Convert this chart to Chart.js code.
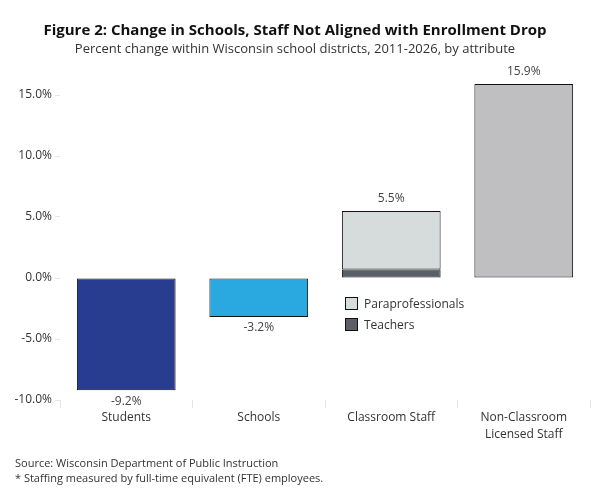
<!DOCTYPE html>
<html>
<head>
<meta charset="utf-8">
<script src="https://cdn.jsdelivr.net/npm/chart.js@4.4.1/dist/chart.umd.min.js"></script>
<style>
  body { margin: 0; background: #fff; }
  #wrap { position: relative; width: 600px; height: 500px; font-family: "Open Sans", "Noto Sans", sans-serif; color: #333; }
  .legend { position: absolute; left: 345px; font-size: 12px; line-height: 14px; }
  .legend span.box { display: inline-block; width: 11px; height: 11px; border: 1px solid #111; vertical-align: -2px; margin-right: 6px; }
  #footer { position: absolute; left: 15px; top: 455px; font-size: 11px; line-height: 15px; color: #333; }
</style>
</head>
<body>
<div id="wrap">
  <canvas id="myChart" width="600" height="500"></canvas>
  <div class="legend" style="top:297px"><span class="box" style="background:#d6dbdb"></span>Paraprofessionals</div>
  <div class="legend" style="top:318px"><span class="box" style="background:#5b5f67"></span>Teachers</div>
  <div id="footer">
    Source: Wisconsin Department of Public Instruction<br>
    * Staffing measured by full-time equivalent (FTE) employees.
  </div>
</div>
<script>
// categories and series (percent change 2011-2026)
const categories = ["Students", "Schools", "Classroom Staff", ["Non-Classroom", "Licensed Staff"]];
const studentsValues = [-9.2, null, null, null];
const schoolsValues = [null, -3.2, null, null];
const teachersValues = [null, null, 0.7, null];
const paraValues = [null, null, 4.8, null];
const nonClassroomValues = [null, null, null, 15.9];
const yTicks = [-10, -5, 0, 5, 10, 15];

const fontFamily = "'Open Sans', 'Noto Sans', sans-serif";

// draws the total above (or below) each stacked bar
const totalLabels = {
  id: "totalLabels",
  afterDatasetsDraw(chart) {
    const ctx = chart.ctx;
    const x = chart.scales.x;
    const y = chart.scales.y;
    ctx.save();
    ctx.font = "12px " + fontFamily;
    ctx.fillStyle = "#444";
    ctx.textAlign = "center";
    ctx.textBaseline = "middle";
    for (let i = 0; i < categories.length; i++) {
      let total = 0;
      chart.data.datasets.forEach((ds) => {
        if (ds.data[i] != null) total += ds.data[i];
      });
      const px = x.getPixelForValue(i);
      const py = y.getPixelForValue(total);
      const offset = total >= 0 ? -12 : 11;
      ctx.fillText(total.toFixed(1) + "%", px, py + offset);
    }
    ctx.restore();
  },
};

const barStyle = { borderColor: "#111", borderWidth: 1, borderSkipped: false, barPercentage: 0.745, categoryPercentage: 1 };

new Chart(document.getElementById("myChart").getContext("2d"), {
  type: "bar",
  data: {
    labels: categories,
    datasets: [
      { label: "Students", data: studentsValues, backgroundColor: "#283d8f", ...barStyle },
      { label: "Schools", data: schoolsValues, backgroundColor: "#29a9e0", ...barStyle },
      { label: "Teachers", data: teachersValues, backgroundColor: "#5b5f67", ...barStyle },
      { label: "Paraprofessionals", data: paraValues, backgroundColor: "#d6dbdb", ...barStyle },
      { label: "Non-Classroom Licensed Staff", data: nonClassroomValues, backgroundColor: "#bfbfc1", ...barStyle },
    ],
  },
  plugins: [totalLabels],
  options: {
    responsive: false,
    animation: false,
    events: [],
    layout: { padding: { left: 0, right: 10, bottom: 60 } },
    scales: {
      x: {
        stacked: true,
        border: { display: false },
        grid: { display: true, drawOnChartArea: false, tickLength: 8, color: "#e6e6e6", offset: true },
        ticks: { color: "#333", padding: 1, font: { family: fontFamily, size: 12, lineHeight: 1.4 } },
        afterFit(scale) { scale.height = 40; },
      },
      y: {
        stacked: true,
        min: -10,
        max: 17,
        border: { display: false },
        grid: { display: true, drawOnChartArea: false, tickLength: 5, color: "#e6e6e6" },
        afterBuildTicks(scale) { scale.ticks = yTicks.map((v) => ({ value: v })); },
        ticks: {
          color: "#333",
          padding: 3,
          font: { family: fontFamily, size: 12 },
          callback: (v) => v.toFixed(1) + "%",
        },
        afterFit(scale) { scale.width = 60; },
      },
    },
    plugins: {
      legend: { display: false },
      tooltip: { enabled: false },
      title: {
        display: true,
        text: "Figure 2: Change in Schools, Staff Not Aligned with Enrollment Drop",
        color: "#111",
        font: { family: fontFamily, size: 15, weight: "bold" },
        padding: { top: 22, bottom: 1 },
      },
      subtitle: {
        display: true,
        text: "Percent change within Wisconsin school districts, 2011-2026, by attribute",
        color: "#333",
        font: { family: fontFamily, size: 13 },
        padding: { bottom: 14 },
      },
    },
  },
});
</script>
</body>
</html>
